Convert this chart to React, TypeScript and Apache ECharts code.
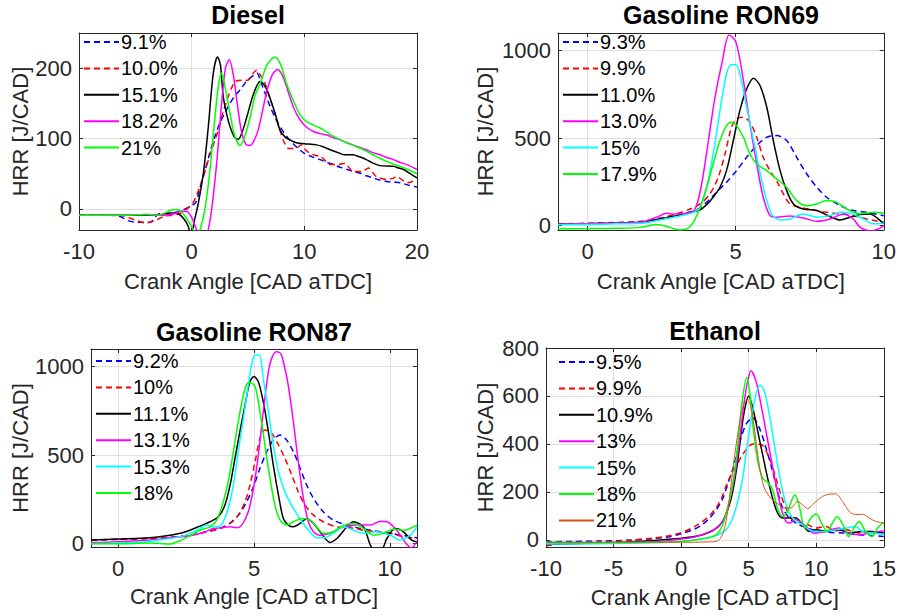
import React, { useEffect, useRef } from 'react';
import * as echarts from 'echarts';

type P = [number, number][];

// ---------------- Diesel ----------------
const dieselNames = ['9.1%', '10.0%', '15.1%', '18.2%', '21%'];
const diesel_9_1: P = [[-10,-9],[-8,-9],[-6.5,-10],[-5.6,-17],[-4.7,-19],[-3.7,-19],[-2.9,-7],[-1.8,-6],[-1,-3],[-0.24,3],[0.35,9],[0.74,30],[1.2,55],[1.6,79],[2.0,100],[2.5,122],[3.0,138],[3.4,150],[3.9,162],[4.3,169],[4.9,182],[5.5,190],[5.8,193],[6.1,182],[6.5,165],[6.95,146],[7.4,130],[7.84,117],[8.3,106],[8.7,98],[9.3,88],[10,79],[10.7,74],[11.4,70],[12,66],[12.6,63],[13.2,59],[13.8,56],[14.4,53],[14.9,51],[15.5,47],[16.1,44],[16.7,41],[17.3,39],[17.9,38],[18.5,37],[19.2,34],[20,31]];
const diesel_10_0: P = [[-10,-9],[-7,-9],[-6,-10],[-5,-16],[-4.1,-20],[-3.3,-17],[-2.5,-11],[-1.8,-9],[-1.1,-7],[-0.5,-1],[0.05,7],[0.4,18],[0.74,32],[1.2,55],[1.6,75],[2.0,95],[2.37,112],[2.8,138],[3.25,160],[3.55,172],[3.85,181],[4.44,183],[5.0,183],[5.4,192],[5.77,197],[6.1,190],[6.5,179],[7.1,150],[7.5,130],[7.84,112],[8.2,95],[8.6,86],[9.2,86],[9.76,91],[10.1,84],[10.5,79],[11.0,76],[11.4,75],[11.9,68],[12.3,63],[13.0,63],[13.6,65],[14.0,58],[14.3,53],[15.1,53],[15.7,58],[16.1,51],[16.4,46],[17.3,42],[17.8,43],[18.2,46],[18.7,41],[19.1,37],[19.6,39],[20,42]];
const diesel_15_1: P = [[-10,-9],[-6,-9],[-4,-9],[-2.6,-8],[-1.8,-6],[-1.2,-7],[-0.7,-14],[-0.3,-25],[-0.1,-40],[0.05,-35],[0.2,-20],[0.59,8],[1.04,51],[1.48,117],[1.92,193],[2.3,216],[2.55,205],[2.8,160],[3.1,135],[3.4,117],[3.8,102],[4.14,99],[4.5,110],[4.9,131],[5.5,164],[6.07,181],[6.4,177],[6.8,164],[7.4,136],[7.84,112],[8.3,102],[8.73,98],[9.3,94],[10,92.7],[11.1,91],[11.7,88],[12.3,84],[13.0,80],[13.5,77],[14.3,77],[14.9,74],[15.5,70],[16.1,65],[16.7,61.5],[17.9,60.5],[18.4,58],[18.8,56],[19.4,50],[20,44]];
const diesel_18_2: P = [[-10,-9],[-6,-9],[-4,-8],[-2.5,-9],[-1.5,-7],[-0.9,-3],[-0.4,-4],[0,-12],[0.4,-28],[0.8,-40],[1.2,-40],[1.48,-29],[1.78,0],[2.22,65],[2.66,150],[3.0,200],[3.34,212],[3.7,190],[4.0,155],[4.4,112],[4.8,92],[5.18,90],[5.5,96],[5.9,112],[6.3,140],[6.7,169],[7.2,192],[7.63,198],[8.1,188],[8.7,160],[9.1,142],[9.6,127],[10.2,116],[10.8,110],[11.4,107],[12,105],[12.6,101],[13.2,98],[13.8,94],[14.3,91],[15.5,84],[16.1,80],[16.7,77],[17.3,73],[17.9,70],[18.5,66],[19.1,63],[20,56]];
const diesel_21: P = [[-10,-9],[-6,-9],[-4,-8],[-3,-9],[-2.4,-6],[-1.9,-2],[-1.4,-1],[-0.9,-4],[-0.4,-15],[0.1,-28],[0.45,-38],[0.74,-30],[1.18,0],[1.63,56],[2.07,131],[2.4,178],[2.66,193],[3.0,170],[3.4,136],[3.8,105],[4.3,90],[4.7,103],[5.2,131],[5.6,160],[6.1,179],[6.7,205],[7.4,216],[7.9,205],[8.4,179],[9.0,155],[9.6,134],[10.2,124],[10.8,119],[11.4,115],[12.0,109],[12.6,103],[13.2,98],[13.8,93.6],[14.4,90],[14.9,86.5],[15.5,82],[16.1,77],[16.7,72],[17.3,67.6],[17.9,64],[18.5,60.5],[19.2,56],[20,50]];

// ---------------- Gasoline RON69 ----------------
const ron69Names = ['9.3%', '9.9%', '11.0%', '13.0%', '15%', '17.9%'];
const ron69_9_3: P = [[-1,10],[0,12],[1,16],[1.77,23],[2.67,48],[3.23,67],[3.68,90],[4.02,133],[4.35,190],[4.69,248],[5.03,314],[5.37,390],[5.71,457],[6.05,505],[6.38,514],[6.72,486],[7.06,390],[7.4,295],[7.74,219],[8.07,162],[8.53,114],[8.97,86],[9.43,76],[10,57]];
const ron69_9_9: P = [[-1,10],[0,13],[1,18],[1.77,23],[2.44,42],[3.0,67],[3.46,95],[3.8,124],[4.13,181],[4.41,276],[4.64,410],[4.86,562],[5.03,610],[5.26,619],[5.48,590],[5.71,505],[5.93,390],[6.16,314],[6.38,257],[6.61,181],[6.83,124],[7.17,105],[7.62,90],[8.07,76],[8.53,67],[8.97,57],[9.43,38],[10,19]];
const ron69_11_0: P = [[-1,8],[0,11],[1,15],[1.77,19],[2.44,38],[3.0,57],[3.46,76],[3.8,90],[4.02,120],[4.24,162],[4.47,219],[4.69,314],[4.92,486],[5.14,657],[5.37,781],[5.6,842],[5.82,800],[6.05,676],[6.27,486],[6.5,314],[6.72,200],[6.95,124],[7.28,95],[7.74,86],[8.19,51],[8.53,32],[8.86,48],[9.2,63],[9.54,67],[9.8,40],[10,10]];
const ron69_13_0: P = [[-1,8],[0,11],[1,15],[1.77,19],[2.33,48],[2.67,70],[2.89,67],[3.35,70],[3.63,95],[3.85,238],[4.08,486],[4.3,733],[4.53,924],[4.78,1088],[5.01,1048],[5.26,829],[5.48,581],[5.71,352],[5.93,162],[6.16,57],[6.38,48],[6.83,55],[7.28,44],[7.74,25],[8.19,38],[8.64,67],[8.97,38],[9.2,-10],[9.55,-30],[9.8,-20],[10,0]];
const ron69_15: P = [[-1,5],[0,7],[1,10],[1.77,13],[2.44,32],[3.12,55],[3.57,76],[3.8,105],[4.02,219],[4.24,410],[4.47,657],[4.69,867],[4.85,918],[5.0,918],[5.14,867],[5.37,676],[5.65,448],[5.93,219],[6.21,67],[6.5,32],[6.83,38],[7.28,67],[7.74,48],[8.19,57],[8.53,76],[8.86,70],[9.2,48],[9.65,10],[10,13]];
const ron69_17_9: P = [[-1,-18],[0,-17],[1,-15],[1.8,-10],[2.33,6],[2.78,-10],[3.12,-25],[3.35,-19],[3.57,19],[3.8,105],[4.02,219],[4.24,352],[4.47,486],[4.69,571],[4.86,590],[5.03,571],[5.26,505],[5.48,410],[5.71,352],[6.05,314],[6.38,267],[6.72,219],[7.06,143],[7.4,114],[7.74,124],[8.07,143],[8.41,133],[8.75,95],[9.2,67],[9.65,76],[10,70]];

// ---------------- Gasoline RON87 ----------------
const ron87Names = ['9.2%', '10%', '11.1%', '13.1%', '15.3%', '18%'];
const ron87_9_2: P = [[-1,19],[0,23],[1,28],[1.9,34],[2.64,47],[3.26,66],[3.81,89],[4.18,123],[4.48,170],[4.73,236],[4.98,321],[5.22,425],[5.47,519],[5.71,585],[5.96,613],[6.2,585],[6.45,519],[6.7,425],[6.94,330],[7.19,255],[7.55,179],[7.92,132],[8.42,104],[8.9,85],[9.4,72],[9.89,62],[10.38,47],[11,32]];
const ron87_10: P = [[-1,19],[0,24],[1.17,28],[1.9,34],[2.64,47],[3.26,66],[3.75,85],[4.12,113],[4.42,160],[4.67,236],[4.85,330],[5.04,462],[5.22,594],[5.4,642],[5.65,623],[5.9,557],[6.14,481],[6.39,387],[6.63,292],[6.88,217],[7.19,160],[7.55,123],[8.05,94],[8.54,89],[9.03,75],[9.52,66],[10.01,57],[10.5,38],[11,28]];
const ron87_11_1: P = [[-1,19],[0,25],[1.17,32],[1.78,43],[2.4,62],[3.01,98],[3.38,123],[3.69,151],[3.93,217],[4.12,330],[4.3,481],[4.48,632],[4.67,783],[4.85,915],[5.0,944],[5.16,915],[5.34,802],[5.53,632],[5.71,443],[5.9,274],[6.08,141],[6.26,104],[6.45,94],[6.7,113],[6.94,141],[7.19,113],[7.43,66],[7.8,6],[8.05,28],[8.42,94],[8.66,123],[9.03,94],[9.28,-9],[9.4,-30],[9.7,-30],[9.89,28],[10.2,85],[10.5,66],[10.8,19],[11,9]];
const ron87_13_1: P = [[-1,5],[0,10],[1.17,20],[1.9,32],[2.64,43],[3.13,62],[3.5,85],[3.81,89],[4.12,94],[4.36,89],[4.55,104],[4.79,179],[4.98,311],[5.16,500],[5.34,745],[5.53,972],[5.65,1047],[5.81,1085],[5.98,1075],[6.08,1028],[6.26,896],[6.45,689],[6.63,462],[6.82,255],[7.0,123],[7.19,66],[7.43,47],[7.8,57],[8.3,94],[8.79,104],[9.28,104],[9.65,126],[9.9,123],[10.25,75],[10.6,0],[10.78,-25],[11,10]];
const ron87_15_3: P = [[-1,0],[0,2],[1,10],[1.9,28],[2.4,43],[2.89,75],[3.26,104],[3.5,94],[3.69,94],[3.87,123],[4.05,198],[4.24,330],[4.42,519],[4.61,708],[4.79,896],[4.91,1010],[5.04,1066],[5.2,1066],[5.34,934],[5.53,745],[5.71,557],[5.9,406],[6.14,292],[6.45,198],[6.76,123],[7.06,66],[7.31,32],[7.55,32],[7.92,57],[8.3,94],[8.66,75],[9.03,57],[9.52,66],[10.01,47],[10.38,19],[10.75,47],[11,94]];
const ron87_18: P = [[-1,-2],[0,-2],[1.17,3],[1.9,-3],[2.27,15],[2.64,43],[3.01,75],[3.38,94],[3.63,132],[3.87,236],[4.05,349],[4.24,519],[4.42,689],[4.61,840],[4.73,900],[4.85,911],[5.04,887],[5.22,745],[5.4,557],[5.59,368],[5.77,217],[5.96,132],[6.2,104],[6.45,123],[6.82,141],[7.06,132],[7.31,94],[7.55,57],[7.92,66],[8.3,104],[8.66,113],[9.03,85],[9.4,47],[9.77,57],[10.14,81],[10.5,75],[11,104]];

// ---------------- Ethanol ----------------
const ethanolNames = ['9.5%', '9.9%', '10.9%', '13%', '15%', '18%', '21%'];
const eth_9_5: P = [[-10,-8],[-8,-7],[-6,-5],[-4,-2],[-2,5],[-1,12],[0,25],[1,45],[1.6,65],[2.1,90],[2.6,125],[3.1,175],[3.5,240],[3.85,300],[4.3,398],[4.8,481],[5.3,509],[5.79,467],[6.28,384],[6.77,286],[7.14,202],[7.51,133],[8.0,91],[8.5,70],[8.99,56],[9.73,42],[10.7,32],[11.95,28],[13.18,21],[14.16,18],[15,14]];
const eth_9_9: P = [[-10,-25],[-9,-18],[-8,-14],[-6,-9],[-4,-3],[-2,8],[-1,16],[0,30],[1,55],[2,95],[2.6,135],[3.0,175],[3.3,220],[3.6,260],[4.0,300],[4.5,350],[5.0,390],[5.3,400],[5.8,398],[6.03,395],[6.53,342],[7.02,258],[7.39,188],[7.76,133],[8.25,84],[8.74,70],[9.36,63],[9.98,49],[10.7,56],[11.45,38],[12.2,42],[13.18,28],[14.16,35],[15,28]];
const eth_10_9: P = [[-10,-20],[-8,-16],[-6,-13],[-4,-9],[-2,-3],[-1,2],[0,7],[1,14],[1.6,21],[2.46,42],[3.08,77],[3.57,146],[3.87,216],[4.19,328],[4.43,440],[4.68,537],[5.0,600],[5.3,551],[5.67,453],[6.03,356],[6.4,258],[6.77,174],[7.14,112],[7.51,91],[8.0,91],[8.5,91],[9.0,63],[9.48,35],[9.98,42],[10.7,35],[11.7,42],[12.44,28],[13.4,35],[14.16,35],[15,28]];
const eth_13: P = [[-10,-12],[-6,-12],[-2,-8],[0,3],[1,12],[1.6,22],[2.09,33],[2.71,52],[3.2,91],[3.57,160],[3.94,258],[4.19,356],[4.43,467],[4.68,579],[4.93,663],[5.17,705],[5.54,663],[5.91,565],[6.28,453],[6.65,342],[7.02,230],[7.39,133],[7.76,77],[8.0,70],[8.5,84],[9.24,56],[9.85,28],[10.7,35],[11.7,49],[12.4,28],[13.2,21],[13.9,28],[15,38]];
const eth_15: P = [[-10,-18],[-6,-16],[-2,-12],[0,-7],[1.6,4],[2.59,18],[3.33,42],[3.82,91],[4.19,160],[4.56,258],[4.8,356],[5.05,453],[5.3,537],[5.54,607],[5.84,646],[6.16,621],[6.53,523],[6.9,398],[7.27,272],[7.64,174],[8.0,112],[8.5,77],[8.99,63],[9.48,42],[9.98,35],[10.7,35],[11.45,42],[12.2,49],[12.93,56],[13.4,35],[14.16,28],[15,22]];
const eth_18: P = [[-10,-10],[-6,-12],[-2,-10],[0,-7],[1.85,7],[2.59,21],[3.08,63],[3.45,133],[3.77,216],[4.06,328],[4.31,467],[4.56,593],[4.85,677],[5.1,607],[5.34,467],[5.67,328],[6.03,258],[6.4,240],[6.77,210],[7.14,133],[7.51,98],[7.88,119],[8.42,188],[8.75,140],[9.16,49],[9.6,90],[10.0,108],[10.4,70],[10.8,35],[11.2,70],[11.55,97],[12.0,60],[12.4,14],[12.8,50],[13.17,76],[13.6,40],[14.1,14],[14.5,45],[14.95,70],[15,65]];
const eth_21: P = [[-10,-10],[-6,-10],[-2,-10],[0,-10],[1,-10],[2,-9],[2.5,-8],[2.9,5],[3.2,45],[3.45,120],[3.69,225],[3.94,342],[4.19,440],[4.43,523],[4.68,572],[4.93,586],[5.17,551],[5.42,467],[5.67,356],[5.91,272],[6.16,216],[6.53,181],[6.9,160],[7.27,146],[7.64,133],[8.13,133],[8.62,160],[8.99,146],[9.36,130],[9.85,153],[10.47,181],[11.08,191],[11.45,191],[11.95,160],[12.44,119],[12.93,105],[13.42,107],[13.92,91],[14.4,77],[15,70]];

// tick values
const dieselXTicks = [-10, 0, 10, 20];
const dieselYTicks = [0, 100, 200];
const ron69XTicks = [0, 5, 10];
const ron69YTicks = [0, 500, 1000];
const ron87XTicks = [0, 5, 10];
const ron87YTicks = [0, 500, 1000];
const ethXTicks = [-10, -5, 0, 5, 10, 15];
const ethYTicks = [0, 200, 400, 600, 800];

const BLUE = '#0000ff', RED = '#ff0000', BLACK = '#000000', MAGENTA = '#ff00ff', CYAN = '#00ffff', GREEN = '#00ff00', ORANGE = '#d95319';
const FONT = '"Liberation Sans", Arial, Helvetica, sans-serif';
const AX = '#262626';
const SEP = '|';

interface S { data: P; color: string; dashed?: boolean; thin?: boolean }
interface Panel {
  title: string; tx: number; ty: number;
  grid: { left: number; top: number; width: number; height: number };
  xr: [number, number]; yr: [number, number];
  xt: number[]; yt: number[];
  names: string[]; series: S[];
  lg: { left: number; top: number };
  yGap: number; xGap: number;
}

const panels: Panel[] = [
  {
    title: 'Diesel', tx: 248, ty: 15,
    grid: { left: 79, top: 33, width: 338, height: 197 },
    xr: [-10, 20], yr: [-30, 250], xt: dieselXTicks, yt: dieselYTicks,
    names: dieselNames,
    series: [
      { data: diesel_9_1, color: BLUE, dashed: true },
      { data: diesel_10_0, color: RED, dashed: true },
      { data: diesel_15_1, color: BLACK },
      { data: diesel_18_2, color: MAGENTA },
      { data: diesel_21, color: GREEN },
    ],
    lg: { left: 83, top: 32 }, yGap: 48, xGap: 40,
  },
  {
    title: 'Gasoline RON69', tx: 721, ty: 15,
    grid: { left: 558, top: 33, width: 326, height: 197 },
    xr: [-1, 10], yr: [-25, 1100], xt: ron69XTicks, yt: ron69YTicks,
    names: ron69Names,
    series: [
      { data: ron69_9_3, color: BLUE, dashed: true },
      { data: ron69_9_9, color: RED, dashed: true },
      { data: ron69_11_0, color: BLACK },
      { data: ron69_13_0, color: MAGENTA },
      { data: ron69_15, color: CYAN },
      { data: ron69_17_9, color: GREEN },
    ],
    lg: { left: 562, top: 32 }, yGap: 62, xGap: 40,
  },
  {
    title: 'Gasoline RON87', tx: 254, ty: 331.5,
    grid: { left: 91, top: 349, width: 326, height: 198 },
    xr: [-1, 11], yr: [-20, 1100], xt: ron87XTicks, yt: ron87YTicks,
    names: ron87Names,
    series: [
      { data: ron87_9_2, color: BLUE, dashed: true },
      { data: ron87_10, color: RED, dashed: true },
      { data: ron87_11_1, color: BLACK },
      { data: ron87_13_1, color: MAGENTA },
      { data: ron87_15_3, color: CYAN },
      { data: ron87_18, color: GREEN },
    ],
    lg: { left: 95, top: 351 }, yGap: 60, xGap: 38,
  },
  {
    title: 'Ethanol', tx: 715, ty: 330.5,
    grid: { left: 546, top: 348, width: 338, height: 199 },
    xr: [-10, 15], yr: [-30, 800], xt: ethXTicks, yt: ethYTicks,
    names: ethanolNames,
    series: [
      { data: eth_9_5, color: BLUE, dashed: true },
      { data: eth_9_9, color: RED, dashed: true },
      { data: eth_10_9, color: BLACK },
      { data: eth_13, color: MAGENTA },
      { data: eth_15, color: CYAN },
      { data: eth_18, color: GREEN },
      { data: eth_21, color: ORANGE, thin: true },
    ],
    lg: { left: 558, top: 352 }, yGap: 50, xGap: 39,
  },
];

function buildOption() {
  const grid: any[] = [];
  const xAxis: any[] = [];
  const yAxis: any[] = [];
  const series: any[] = [];
  const legend: any[] = [];
  const graphic: any[] = [];
  const labelStyle = { fontSize: 22, color: AX, fontFamily: FONT };
  const fmt = (v: number) => String(v);
  panels.forEach((p, i) => {
    grid.push({ ...p.grid, show: false, containLabel: false });
    const lineS = { show: true, onZero: false, lineStyle: { color: AX, width: 1 } };
    const tickS = (vals: number[]) => ({ show: true, inside: true, length: 4, customValues: vals, lineStyle: { color: AX, width: 1 } });
    xAxis.push({
      type: 'value', gridIndex: i, min: p.xr[0], max: p.xr[1], position: 'bottom',
      axisLine: lineS, axisTick: tickS(p.xt),
      axisLabel: { customValues: p.xt, margin: 10, formatter: fmt, ...labelStyle },
      splitLine: { show: true, lineStyle: { color: '#dfdfdf', width: 1 } },
      name: 'Crank Angle [CAD aTDC]', nameLocation: 'middle', nameGap: p.xGap,
      nameTextStyle: { ...labelStyle },
    });
    xAxis.push({
      type: 'value', gridIndex: i, min: p.xr[0], max: p.xr[1], position: 'top',
      axisLine: lineS, axisTick: tickS(p.xt), axisLabel: { show: false, customValues: p.xt },
      splitLine: { show: false },
    });
    yAxis.push({
      type: 'value', gridIndex: i, min: p.yr[0], max: p.yr[1], position: 'left',
      axisLine: lineS, axisTick: tickS(p.yt),
      axisLabel: { customValues: p.yt, margin: 7, formatter: fmt, ...labelStyle },
      splitLine: { show: true, lineStyle: { color: '#dfdfdf', width: 1 } },
      name: 'HRR [J/CAD]', nameLocation: 'middle', nameGap: p.yGap,
      nameTextStyle: { ...labelStyle },
    });
    yAxis.push({
      type: 'value', gridIndex: i, min: p.yr[0], max: p.yr[1], position: 'right',
      axisLine: lineS, axisTick: tickS(p.yt), axisLabel: { show: false, customValues: p.yt },
      splitLine: { show: false },
    });
    const ids = p.names.map((n) => p.title + SEP + n);
    p.series.forEach((s, k) => {
      series.push({
        type: 'line', name: ids[k], data: s.data,
        xAxisIndex: i * 2, yAxisIndex: i * 2,
        showSymbol: false, symbol: 'none', smooth: 0.3, clip: true,
        lineStyle: { color: s.color, width: s.thin ? 1 : 1.5, type: s.dashed ? [6, 4] : 'solid' },
        itemStyle: { color: s.color },
        emphasis: { disabled: true },
      });
    });
    legend.push({
      data: ids, orient: 'vertical', left: p.lg.left, top: p.lg.top,
      padding: 0, itemWidth: 35, itemHeight: 14, itemGap: 6.4,
      selectedMode: false,
      itemStyle: { opacity: 0 },
      formatter: (name: string) => name.split(SEP)[1],
      textStyle: { fontSize: 20, color: '#000', fontFamily: FONT, lineHeight: 20, padding: [0, 0, 0, -3] },
    });
    graphic.push({
      type: 'text', x: p.tx, y: p.ty,
      style: { text: p.title, align: 'center', verticalAlign: 'middle', font: `bold 25px ${FONT}`, fill: '#000' },
    });
  });
  return { animation: false, backgroundColor: '#fff', grid, xAxis, yAxis, series, legend, graphic };
}

export default function App() {
  const ref = useRef<HTMLDivElement>(null);
  useEffect(() => {
    document.body.style.margin = '0';
    if (!ref.current) return;
    const chart = echarts.init(ref.current, null, { renderer: 'svg' });
    chart.setOption(buildOption() as any);
    return () => chart.dispose();
  }, []);
  return <div ref={ref} style={{ width: 899, height: 616 }} />;
}
